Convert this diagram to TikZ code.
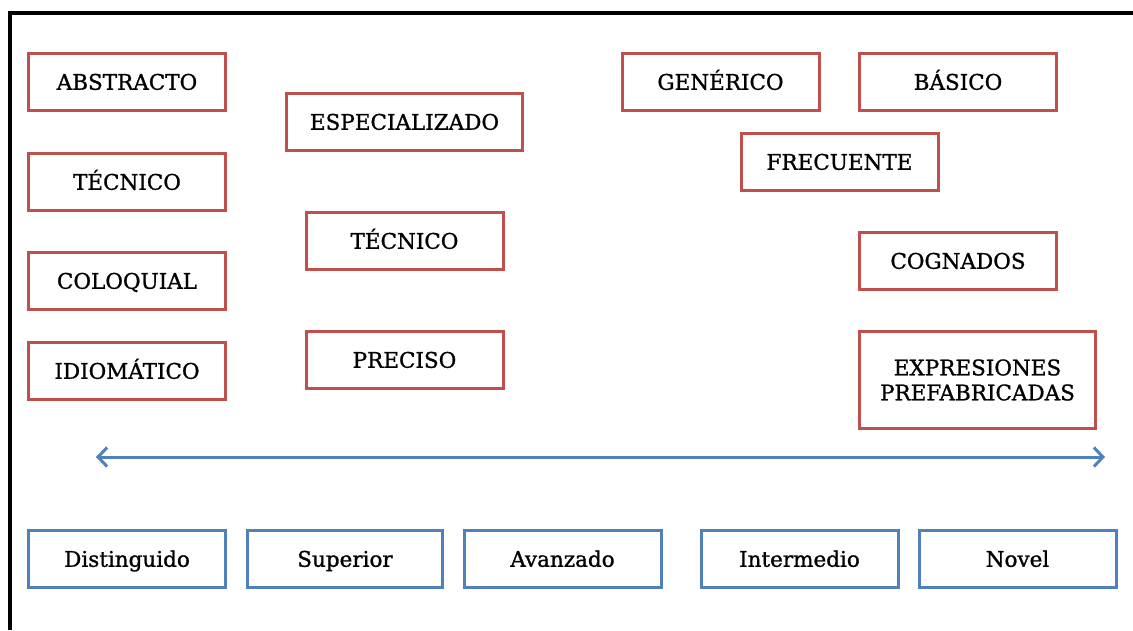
\documentclass[tikz,border=0pt]{standalone}
\usepackage{fontspec}
\setmainfont[FakeBold=1.1]{DejaVu Serif}
\usetikzlibrary{arrows.meta}
\definecolor{boxred}{RGB}{192,80,77}
\definecolor{boxblue}{RGB}{79,129,189}
\begin{document}
\begin{tikzpicture}[x=1pt,y=-1pt,
  lbl/.style={font=\fontsize{21.5}{25}\selectfont, text=black, align=center, inner sep=0pt},
  oneline/.style={text height=17pt, text depth=1.5pt},
  redframe/.style={lbl, draw=boxred, line width=3pt, minimum width=197pt, minimum height=57pt},
  redbox/.style={redframe, oneline},
  bluebox/.style={lbl, oneline, draw=boxblue, line width=3pt, minimum width=197pt, minimum height=57pt},
  axis/.style={draw=boxblue, line width=3pt, {Straight Barb[length=9pt,width=19pt,line width=3pt]}-{Straight Barb[length=9pt,width=19pt,line width=3pt]}}
]
\useasboundingbox (0,0) rectangle (1133,630);
\draw[line width=4pt] (1133,13) -- (9.5,13) -- (9.5,630);

\node[redbox] (abs) at (127,82) {ABSTRACTO};
\node[redbox] (tec1) at (127,182) {TÉCNICO};
\node[redbox] (col) at (127,281) {COLOQUIAL};
\node[redbox] (idi) at (127,371) {IDIOMÁTICO};

\node[redbox, minimum width=236pt] (esp) at (404.5,122) {ESPECIALIZADO};
\node[redbox] (tec2) at (404.5,241) {TÉCNICO};
\node[redbox] (pre) at (404.5,360) {PRECISO};

\node[redbox] (gen) at (720.5,82) {GENÉRICO};
\node[redbox] (bas) at (958,82) {BÁSICO};
\node[redbox] (fre) at (839.5,162) {FRECUENTE};
\node[redbox] (cog) at (958,261) {COGNADOS};
\node[redframe, minimum width=236pt, minimum height=97pt] (exp) at (977.5,380) {EXPRESIONES\\PREFABRICADAS};

\coordinate (aL) at (96,457);
\coordinate (aR) at (1105,457);
\draw[axis] (aL) -- (aR);

\node[bluebox] (dis) at (127,559) {Distinguido};
\node[bluebox, minimum width=195pt] (sup) at (345,559) {Superior};
\node[bluebox] (ava) at (562.5,559) {Avanzado};
\node[bluebox] (int) at (799.5,559) {Intermedio};
\node[bluebox] (nov) at (1017.5,559) {Novel};
\end{tikzpicture}
\end{document}
